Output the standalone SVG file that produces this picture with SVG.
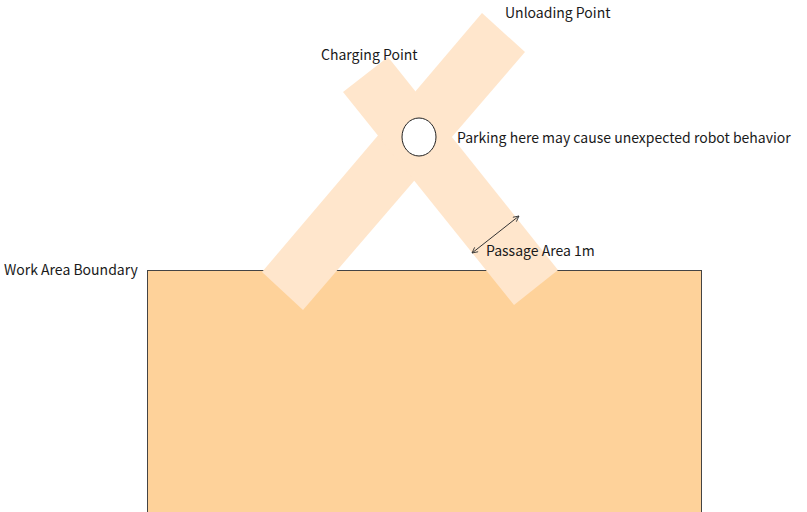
<svg xmlns="http://www.w3.org/2000/svg" width="807" height="512" viewBox="0 0 807 512">
<style>
.lbl{font-family:"Noto Sans CJK SC","Noto Sans",sans-serif;font-size:14px;fill:#1a1a1a}
.bar{fill:#FFE6CC;stroke:none}
</style>
<defs>
<marker id="ah" viewBox="0 0 10 10" refX="9" refY="5" markerWidth="7" markerHeight="7" orient="auto-start-reverse" markerUnits="userSpaceOnUse">
<path d="M1,1 L9,5 L1,9" fill="none" stroke="#333" stroke-width="1.2"/>
</marker>
</defs>
<rect width="807" height="512" fill="#ffffff"/>
<g id="work-area">
<rect x="147.5" y="270.5" width="554" height="242" fill="#FED29A" stroke="#444" stroke-width="1"/>
<text class="lbl" x="4" y="275">Work Area Boundary</text>
</g>
<g id="passage-1">
<polygon class="bar" points="262,272 303,310 525,52 482,13"/>
</g>
<g id="passage-2">
<polygon class="bar" points="343,92 388,57 558,270 514,305"/>
</g>
<g id="parking">
<ellipse cx="419" cy="137" rx="17" ry="19" fill="#ffffff" stroke="#222" stroke-width="1"/>
<text class="lbl" x="457" y="143">Parking here may cause unexpected robot behavior</text>
</g>
<g id="charging-point">
<text class="lbl" x="321" y="60">Charging Point</text>
</g>
<g id="unloading-point">
<text class="lbl" x="505" y="18">Unloading Point</text>
</g>
<g id="connectors">
<line x1="472" y1="253" x2="519" y2="216" stroke="#333" stroke-width="1" marker-start="url(#ah)" marker-end="url(#ah)"/>
</g>
<g id="passage-label">
<text class="lbl" x="486" y="256">Passage Area 1m</text>
</g>
</svg>
